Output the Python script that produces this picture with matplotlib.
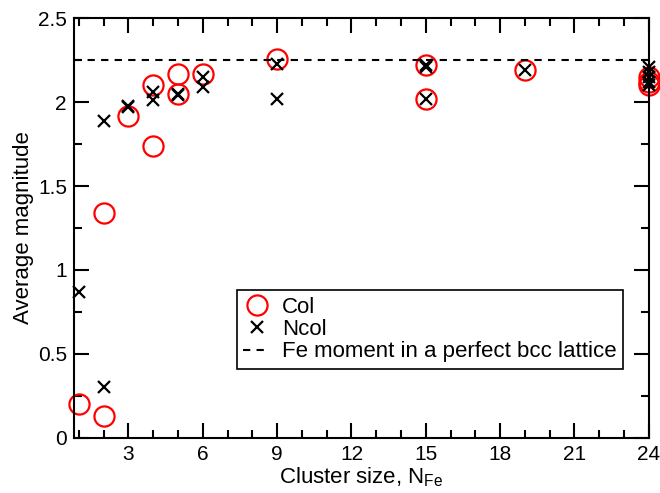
import numpy as np
import matplotlib
matplotlib.use('Agg')
import matplotlib.pyplot as plt
from matplotlib.ticker import MultipleLocator

plt.rcParams['font.family'] = ['Liberation Sans', 'DejaVu Sans']
plt.rcParams['mathtext.fontset'] = 'custom'
plt.rcParams['mathtext.rm'] = 'Liberation Sans'

# collinear
col_n = [1, 2, 2, 3, 4, 4, 5, 5, 6, 9, 15, 15, 19, 24, 24, 24]
col_m = [0.20, 0.13, 1.34, 1.92, 2.10, 1.74, 2.17, 2.05, 2.17, 2.26, 2.22, 2.02, 2.19, 2.15, 2.12, 2.10]

# non-collinear
ncol_n = [1, 2, 2, 3, 3, 4, 4, 5, 5, 6, 6, 9, 9, 15, 15, 15, 19, 24, 24, 24, 24, 24]
ncol_m = [0.87, 1.89, 0.30, 1.98, 1.97, 2.06, 2.01, 2.05, 2.04, 2.15, 2.09, 2.23, 2.02,
          2.22, 2.21, 2.02, 2.19, 2.21, 2.18, 2.15, 2.12, 2.10]

fe_bulk = 2.25

fig = plt.figure(figsize=(6.6, 4.93), dpi=100)
ax = fig.add_axes([0.112, 0.112, 0.871, 0.851])

ax.plot(col_n, col_m, 'o', ms=14.5, mfc='none', mec='red', mew=1.6, label='Col', clip_on=False)
ax.plot(ncol_n, ncol_m, 'x', ms=9, color='black', mew=1.6, label='Ncol', clip_on=False)
ax.axhline(fe_bulk, color='black', ls=(0, (3.5, 3)), lw=1.5,
           label='Fe moment in a perfect bcc lattice')

ax.set_xlim(0.8, 24)
ax.set_ylim(0, 2.5)
ax.xaxis.set_major_locator(MultipleLocator(3))
ax.xaxis.set_minor_locator(MultipleLocator(1))
ax.yaxis.set_major_locator(MultipleLocator(0.5))
ax.yaxis.set_minor_locator(MultipleLocator(0.25))
ax.yaxis.set_major_formatter(plt.FuncFormatter(lambda v, p: ('%g' % v)))
ax.tick_params(which='both', direction='in', top=True, right=True, width=1.5, labelsize=15)
ax.tick_params(which='major', length=11, pad=5)
ax.tick_params(which='minor', length=6)
for s in ax.spines.values():
    s.set_linewidth(1.5)

ax.set_xlabel(r'Cluster size, N$_{\rm Fe}$', fontsize=16, labelpad=1)
ax.set_ylabel('Average magnitude', fontsize=16, labelpad=3)

leg = ax.legend(loc='lower left', bbox_to_anchor=(0.283, 0.164), fontsize=16,
                frameon=True, fancybox=False, edgecolor='black', framealpha=1,
                handlelength=1.2, handletextpad=0.55, borderpad=0.3, labelspacing=0.05,
                borderaxespad=0)
leg.get_frame().set_linewidth(1.2)

fig.savefig('out.png', dpi=100)
